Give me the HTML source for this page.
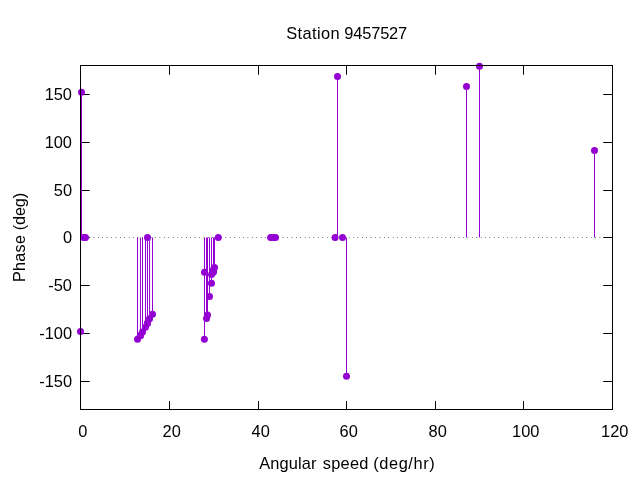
<!DOCTYPE html>
<html><head><meta charset="utf-8"><title>Station 9457527</title>
<style>html,body{margin:0;padding:0;background:#fff;}body{width:640px;height:480px;overflow:hidden;}svg{display:block;}text{font-family:"Liberation Sans",sans-serif;fill:#000;}.txt{filter:grayscale(1);}</style>
</head><body>
<svg width="640" height="480" viewBox="0 0 640 480">
<rect x="0" y="0" width="640" height="480" fill="#ffffff"/>
<g stroke="#000" stroke-width="1" fill="none">
<line x1="80.5" y1="94.5" x2="89.7" y2="94.5"/>
<line x1="612.5" y1="94.5" x2="603.2" y2="94.5"/>
<line x1="80.5" y1="142.5" x2="89.7" y2="142.5"/>
<line x1="612.5" y1="142.5" x2="603.2" y2="142.5"/>
<line x1="80.5" y1="190.5" x2="89.7" y2="190.5"/>
<line x1="612.5" y1="190.5" x2="603.2" y2="190.5"/>
<line x1="80.5" y1="237.5" x2="89.7" y2="237.5"/>
<line x1="612.5" y1="237.5" x2="603.2" y2="237.5"/>
<line x1="80.5" y1="285.5" x2="89.7" y2="285.5"/>
<line x1="612.5" y1="285.5" x2="603.2" y2="285.5"/>
<line x1="80.5" y1="333.5" x2="89.7" y2="333.5"/>
<line x1="612.5" y1="333.5" x2="603.2" y2="333.5"/>
<line x1="80.5" y1="381.5" x2="89.7" y2="381.5"/>
<line x1="612.5" y1="381.5" x2="603.2" y2="381.5"/>
<line x1="169.5" y1="409.5" x2="169.5" y2="401"/>
<line x1="169.5" y1="65.5" x2="169.5" y2="74.7"/>
<line x1="258.5" y1="409.5" x2="258.5" y2="401"/>
<line x1="258.5" y1="65.5" x2="258.5" y2="74.7"/>
<line x1="346.5" y1="409.5" x2="346.5" y2="401"/>
<line x1="346.5" y1="65.5" x2="346.5" y2="74.7"/>
<line x1="435.5" y1="409.5" x2="435.5" y2="401"/>
<line x1="435.5" y1="65.5" x2="435.5" y2="74.7"/>
<line x1="523.5" y1="409.5" x2="523.5" y2="401"/>
<line x1="523.5" y1="65.5" x2="523.5" y2="74.7"/>
</g>
<g class="txt" font-size="16.4px">
<text x="72" y="100.3" text-anchor="end">150</text>
<text x="72" y="148.3" text-anchor="end">100</text>
<text x="72" y="196.3" text-anchor="end">50</text>
<text x="72" y="243.3" text-anchor="end">0</text>
<text x="72" y="291.3" text-anchor="end">-50</text>
<text x="72" y="339.3" text-anchor="end">-100</text>
<text x="72" y="387.3" text-anchor="end">-150</text>
<text x="82.7" y="437.3" text-anchor="middle">0</text>
<text x="171.7" y="437.3" text-anchor="middle">20</text>
<text x="260.7" y="437.3" text-anchor="middle">40</text>
<text x="348.7" y="437.3" text-anchor="middle">60</text>
<text x="437.7" y="437.3" text-anchor="middle">80</text>
<text x="525.7" y="437.3" text-anchor="middle">100</text>
<text x="614.7" y="437.3" text-anchor="middle">120</text>
</g>
<g class="txt">
<text x="286.22" y="38.5" font-size="16.4px" letter-spacing="0.383">Station</text>
<text x="344.30" y="38.5" font-size="16.4px" letter-spacing="-0.153">9457527</text>
<text x="259.14" y="469.4" font-size="16.4px" letter-spacing="0.147">Angular</text>
<text x="322.66" y="469.4" font-size="16.4px" letter-spacing="0.275">speed</text>
<text x="373.28" y="469.4" font-size="16.4px" letter-spacing="0.566">(deg/hr)</text>
<text transform="translate(24.7,282.06) rotate(-90)" font-size="16.2px" letter-spacing="0.278">Phase</text>
<text transform="translate(24.7,230.28) rotate(-90)" font-size="16.2px" letter-spacing="-0.095">(deg)</text>
</g>
<line x1="80.5" y1="237.5" x2="612.5" y2="237.5" stroke="#000" stroke-width="1" stroke-dasharray="0.5 3.9"/>
<g stroke="#9400D3" stroke-width="1" fill="none">
<line x1="80.5" y1="237.5" x2="80.5" y2="331.43"/>
<line x1="81.5" y1="237.5" x2="81.5" y2="92.26"/>
<line x1="137.5" y1="237.5" x2="137.5" y2="339.36"/>
<line x1="140.45" y1="237.5" x2="140.45" y2="335.73"/>
<line x1="142.5" y1="237.5" x2="142.5" y2="331.91"/>
<line x1="145.5" y1="237.5" x2="145.5" y2="327.32"/>
<line x1="147.5" y1="237.5" x2="147.5" y2="323.50"/>
<line x1="149.55" y1="237.5" x2="149.55" y2="318.63"/>
<line x1="152.5" y1="237.5" x2="152.5" y2="314.33"/>
<line x1="204.5" y1="237.5" x2="204.5" y2="339.36"/>
<line x1="206.5" y1="237.5" x2="206.5" y2="318.53"/>
<line x1="207.5" y1="237.5" x2="207.5" y2="315.09"/>
<line x1="209.5" y1="237.5" x2="209.5" y2="296.55"/>
<line x1="211.5" y1="237.5" x2="211.5" y2="283.27"/>
<line x1="213.5" y1="237.5" x2="213.5" y2="272.28"/>
<line x1="214.5" y1="237.5" x2="214.5" y2="267.41"/>
<line x1="337.5" y1="237.5" x2="337.5" y2="76.49"/>
<line x1="346.5" y1="237.5" x2="346.5" y2="376.34"/>
<line x1="466.5" y1="237.5" x2="466.5" y2="86.43"/>
<line x1="479.5" y1="237.5" x2="479.5" y2="66.17"/>
<line x1="594.5" y1="237.5" x2="594.5" y2="150.45"/>
</g>
<g fill="#9400D3" stroke="none">
<circle cx="80.5" cy="331.43" r="3.5"/>
<circle cx="81.5" cy="92.26" r="3.5"/>
<circle cx="83.8" cy="237.50" r="3.5"/>
<circle cx="85.0" cy="237.50" r="3.5"/>
<circle cx="85.4" cy="237.50" r="3.5"/>
<circle cx="137.5" cy="339.36" r="3.5"/>
<circle cx="140.3" cy="335.73" r="3.5"/>
<circle cx="140.6" cy="335.16" r="3.5"/>
<circle cx="142.5" cy="331.91" r="3.5"/>
<circle cx="145.5" cy="327.32" r="3.5"/>
<circle cx="147.4" cy="323.50" r="3.5"/>
<circle cx="147.6" cy="322.83" r="3.5"/>
<circle cx="147.5" cy="237.50" r="3.5"/>
<circle cx="149.55" cy="318.63" r="3.5"/>
<circle cx="152.5" cy="314.33" r="3.5"/>
<circle cx="204.4" cy="339.36" r="3.5"/>
<circle cx="204.5" cy="272.28" r="3.5"/>
<circle cx="206.5" cy="318.53" r="3.5"/>
<circle cx="207.5" cy="315.09" r="3.5"/>
<circle cx="209.5" cy="296.55" r="3.5"/>
<circle cx="211.5" cy="283.27" r="3.5"/>
<circle cx="211.5" cy="274.58" r="3.5"/>
<circle cx="213.4" cy="272.28" r="3.5"/>
<circle cx="213.5" cy="270.75" r="3.5"/>
<circle cx="213.6" cy="269.13" r="3.5"/>
<circle cx="214.5" cy="267.41" r="3.5"/>
<circle cx="218.3" cy="237.50" r="3.5"/>
<circle cx="270.6" cy="237.50" r="3.5"/>
<circle cx="273.1" cy="237.50" r="3.5"/>
<circle cx="275.5" cy="237.50" r="3.5"/>
<circle cx="335.1" cy="237.50" r="3.5"/>
<circle cx="337.5" cy="76.49" r="3.5"/>
<circle cx="342.5" cy="237.50" r="3.5"/>
<circle cx="346.5" cy="376.34" r="3.5"/>
<circle cx="466.5" cy="86.43" r="3.5"/>
<circle cx="479.5" cy="66.17" r="3.5"/>
<circle cx="594.5" cy="150.45" r="3.5"/>
</g>
<rect x="80.5" y="65.5" width="532.0" height="344.0" fill="none" stroke="#000" stroke-width="1"/>
</svg></body></html>
